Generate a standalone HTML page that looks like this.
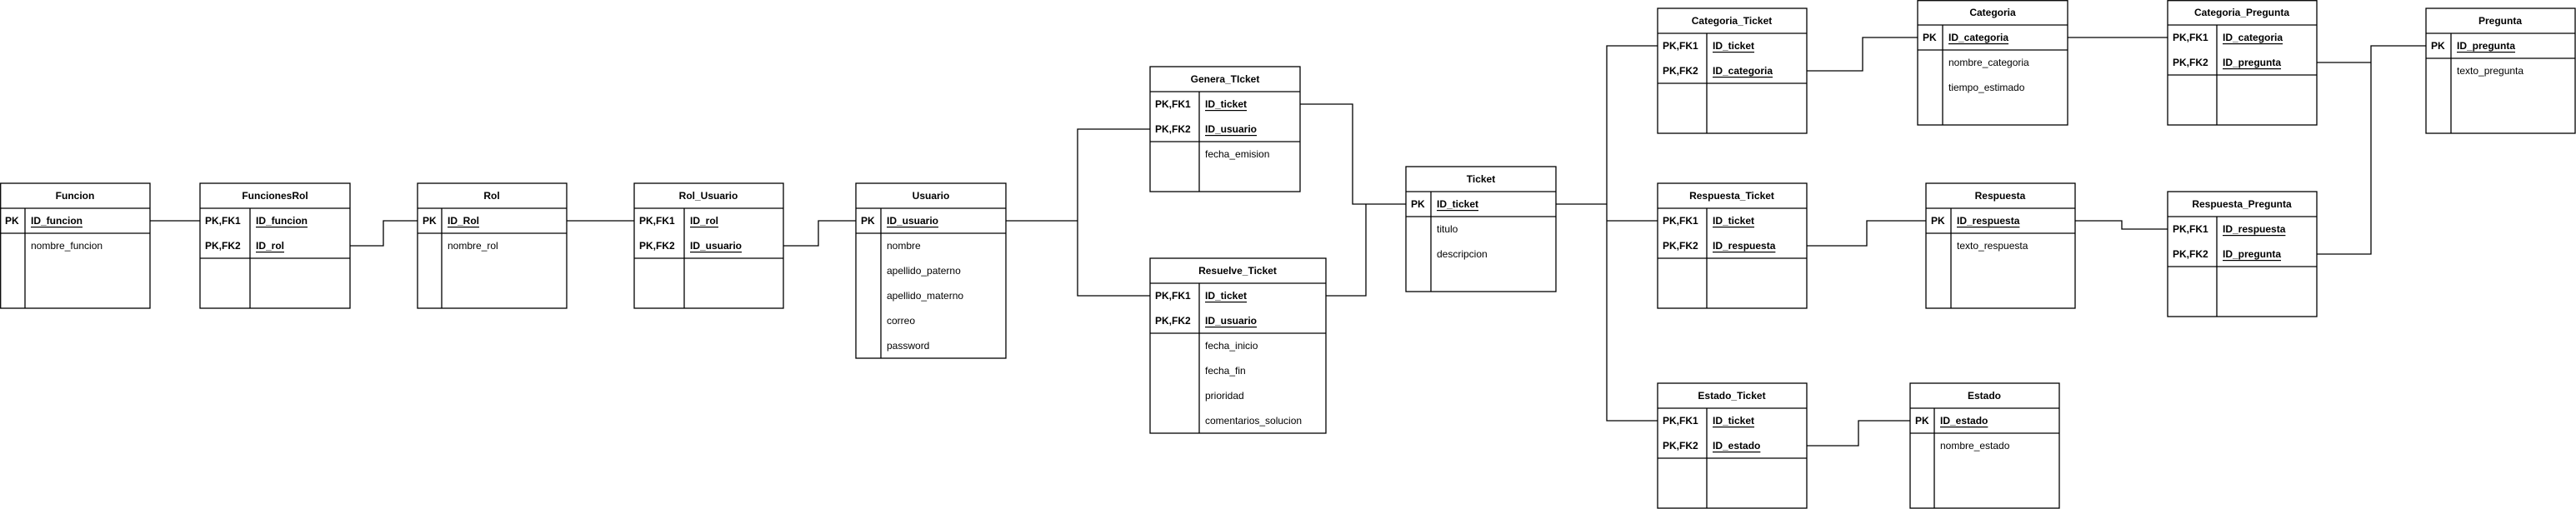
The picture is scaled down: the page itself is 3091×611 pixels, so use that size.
<!DOCTYPE html>
<html><head><meta charset="utf-8"><style>
html,body{margin:0;padding:0;background:#fff;}
svg{display:block;}
text{font-family:"Liberation Sans",Arial,sans-serif;font-size:12px;fill:#000;dominant-baseline:central;}
.b{font-weight:bold;}
.t{font-weight:bold;text-anchor:middle;}
.u{font-weight:bold;text-decoration:underline;}
</style></head><body>
<svg width="3091" height="611" viewBox="0 0 3091 611" xmlns="http://www.w3.org/2000/svg">
<g fill="none" stroke="#000" stroke-width="1.3">
<!-- connectors -->
<polyline points="180,265 240,265"/>
<polyline points="420,295 460,295 460,265 501,265"/>
<polyline points="680,265 761,265"/>
<polyline points="940,295 982,295 982,265 1027,265"/>
<polyline points="1207,265 1293,265"/>
<polyline points="1380,155 1293,155 1293,355 1380,355"/>
<polyline points="1560,125 1623,125 1623,245 1687,245"/>
<polyline points="1591,355 1639,355 1639,245"/>
<polyline points="1867,245 1928,245"/>
<polyline points="1989,55 1928,55 1928,505 1989,505"/>
<polyline points="1928,265 1989,265"/>
<polyline points="2168,85 2235,85 2235,45 2301,45"/>
<polyline points="2481,45 2601,45"/>
<polyline points="2780,75 2845,75"/>
<polyline points="2911,55 2845,55 2845,305 2780,305"/>
<polyline points="2168,295 2240,295 2240,265 2311,265"/>
<polyline points="2490,265 2546,265 2546,275 2601,275"/>
<polyline points="2168,535 2230,535 2230,505 2292,505"/>
</g>
<g fill="#fff" stroke="#000" stroke-width="1.3">
<!-- Funcion -->
<rect x="0.7" y="220" width="179.3" height="150"/><path d="M0 250H180M0 280H180M30 250V370"/>
<!-- FuncionesRol -->
<rect x="240" y="220" width="180" height="150"/><path d="M240 250H420M240 310H420M300 250V370"/>
<!-- Rol -->
<rect x="501" y="220" width="179" height="150"/><path d="M501 250H680M501 280H680M530 250V370"/>
<!-- Rol_Usuario -->
<rect x="761" y="220" width="179" height="150"/><path d="M761 250H940M761 310H940M821 250V370"/>
<!-- Usuario -->
<rect x="1027" y="220" width="180" height="210"/><path d="M1027 250H1207M1027 280H1207M1057 250V430"/>
<!-- Genera -->
<rect x="1380" y="80" width="180" height="150"/><path d="M1380 110H1560M1380 170H1560M1439 110V230"/>
<!-- Resuelve -->
<rect x="1380" y="310" width="211" height="210"/><path d="M1380 340H1591M1380 400H1591M1439 340V520"/>
<!-- Ticket -->
<rect x="1687" y="200" width="180" height="150"/><path d="M1687 230H1867M1687 260H1867M1717 230V350"/>
<!-- Categoria_Ticket -->
<rect x="1989" y="10" width="179" height="150"/><path d="M1989 40H2168M1989 100H2168M2048 40V160"/>
<!-- Categoria -->
<rect x="2301" y="0.7" width="180" height="149.3"/><path d="M2301 30H2481M2301 60H2481M2331 30V150"/>
<!-- Categoria_Pregunta -->
<rect x="2601" y="0.7" width="179" height="149.3"/><path d="M2601 30H2780M2601 90H2780M2660 30V150"/>
<!-- Pregunta -->
<rect x="2911" y="10" width="179" height="150"/><path d="M2911 40H3090M2911 70H3090M2941 40V160"/>
<!-- Respuesta_Ticket -->
<rect x="1989" y="220" width="179" height="150"/><path d="M1989 250H2168M1989 310H2168M2048 250V370"/>
<!-- Respuesta -->
<rect x="2311" y="220" width="179" height="150"/><path d="M2311 250H2490M2311 280H2490M2341 250V370"/>
<!-- Respuesta_Pregunta -->
<rect x="2601" y="230" width="179" height="150"/><path d="M2601 260H2780M2601 320H2780M2660 260V380"/>
<!-- Estado_Ticket -->
<rect x="1989" y="460" width="179" height="150"/><path d="M1989 490H2168M1989 550H2168M2048 490V610"/>
<!-- Estado -->
<rect x="2292" y="460" width="179" height="150"/><path d="M2292 490H2471M2292 520H2471M2321 490V610"/>
</g>
<!-- texts -->
<text class="t" x="90" y="235">Funcion</text>
<text class="b" x="6" y="265">PK</text><text class="u" x="37" y="265">ID_funcion</text>
<text x="37" y="295">nombre_funcion</text>

<text class="t" x="330" y="235">FuncionesRol</text>
<text class="b" x="246" y="265">PK,FK1</text><text class="u" x="307" y="265">ID_funcion</text>
<text class="b" x="246" y="295">PK,FK2</text><text class="u" x="307" y="295">ID_rol</text>

<text class="t" x="590" y="235">Rol</text>
<text class="b" x="507" y="265">PK</text><text class="u" x="537" y="265">ID_Rol</text>
<text x="537" y="295">nombre_rol</text>

<text class="t" x="850" y="235">Rol_Usuario</text>
<text class="b" x="767" y="265">PK,FK1</text><text class="u" x="828" y="265">ID_rol</text>
<text class="b" x="767" y="295">PK,FK2</text><text class="u" x="828" y="295">ID_usuario</text>

<text class="t" x="1117" y="235">Usuario</text>
<text class="b" x="1033" y="265">PK</text><text class="u" x="1064" y="265">ID_usuario</text>
<text x="1064" y="295">nombre</text>
<text x="1064" y="325">apellido_paterno</text>
<text x="1064" y="355">apellido_materno</text>
<text x="1064" y="385">correo</text>
<text x="1064" y="415">password</text>

<text class="t" x="1470" y="95">Genera_TIcket</text>
<text class="b" x="1386" y="125">PK,FK1</text><text class="u" x="1446" y="125">ID_ticket</text>
<text class="b" x="1386" y="155">PK,FK2</text><text class="u" x="1446" y="155">ID_usuario</text>
<text x="1446" y="185">fecha_emision</text>

<text class="t" x="1485" y="325">Resuelve_Ticket</text>
<text class="b" x="1386" y="355">PK,FK1</text><text class="u" x="1446" y="355">ID_ticket</text>
<text class="b" x="1386" y="385">PK,FK2</text><text class="u" x="1446" y="385">ID_usuario</text>
<text x="1446" y="415">fecha_inicio</text>
<text x="1446" y="445">fecha_fin</text>
<text x="1446" y="475">prioridad</text>
<text x="1446" y="505">comentarios_solucion</text>

<text class="t" x="1777" y="215">Ticket</text>
<text class="b" x="1693" y="245">PK</text><text class="u" x="1724" y="245">ID_ticket</text>
<text x="1724" y="275">titulo</text>
<text x="1724" y="305">descripcion</text>

<text class="t" x="2078" y="25">Categoria_Ticket</text>
<text class="b" x="1995" y="55">PK,FK1</text><text class="u" x="2055" y="55">ID_ticket</text>
<text class="b" x="1995" y="85">PK,FK2</text><text class="u" x="2055" y="85">ID_categoria</text>

<text class="t" x="2391" y="15">Categoria</text>
<text class="b" x="2307" y="45">PK</text><text class="u" x="2338" y="45">ID_categoria</text>
<text x="2338" y="75">nombre_categoria</text>
<text x="2338" y="105">tiempo_estimado</text>

<text class="t" x="2690" y="15">Categoria_Pregunta</text>
<text class="b" x="2607" y="45">PK,FK1</text><text class="u" x="2667" y="45">ID_categoria</text>
<text class="b" x="2607" y="75">PK,FK2</text><text class="u" x="2667" y="75">ID_pregunta</text>

<text class="t" x="3000" y="25">Pregunta</text>
<text class="b" x="2917" y="55">PK</text><text class="u" x="2948" y="55">ID_pregunta</text>
<text x="2948" y="85">texto_pregunta</text>

<text class="t" x="2078" y="235">Respuesta_Ticket</text>
<text class="b" x="1995" y="265">PK,FK1</text><text class="u" x="2055" y="265">ID_ticket</text>
<text class="b" x="1995" y="295">PK,FK2</text><text class="u" x="2055" y="295">ID_respuesta</text>

<text class="t" x="2400" y="235">Respuesta</text>
<text class="b" x="2317" y="265">PK</text><text class="u" x="2348" y="265">ID_respuesta</text>
<text x="2348" y="295">texto_respuesta</text>

<text class="t" x="2690" y="245">Respuesta_Pregunta</text>
<text class="b" x="2607" y="275">PK,FK1</text><text class="u" x="2667" y="275">ID_respuesta</text>
<text class="b" x="2607" y="305">PK,FK2</text><text class="u" x="2667" y="305">ID_pregunta</text>

<text class="t" x="2078" y="475">Estado_Ticket</text>
<text class="b" x="1995" y="505">PK,FK1</text><text class="u" x="2055" y="505">ID_ticket</text>
<text class="b" x="1995" y="535">PK,FK2</text><text class="u" x="2055" y="535">ID_estado</text>

<text class="t" x="2381" y="475">Estado</text>
<text class="b" x="2298" y="505">PK</text><text class="u" x="2328" y="505">ID_estado</text>
<text x="2328" y="535">nombre_estado</text>
</svg>
</body></html>
